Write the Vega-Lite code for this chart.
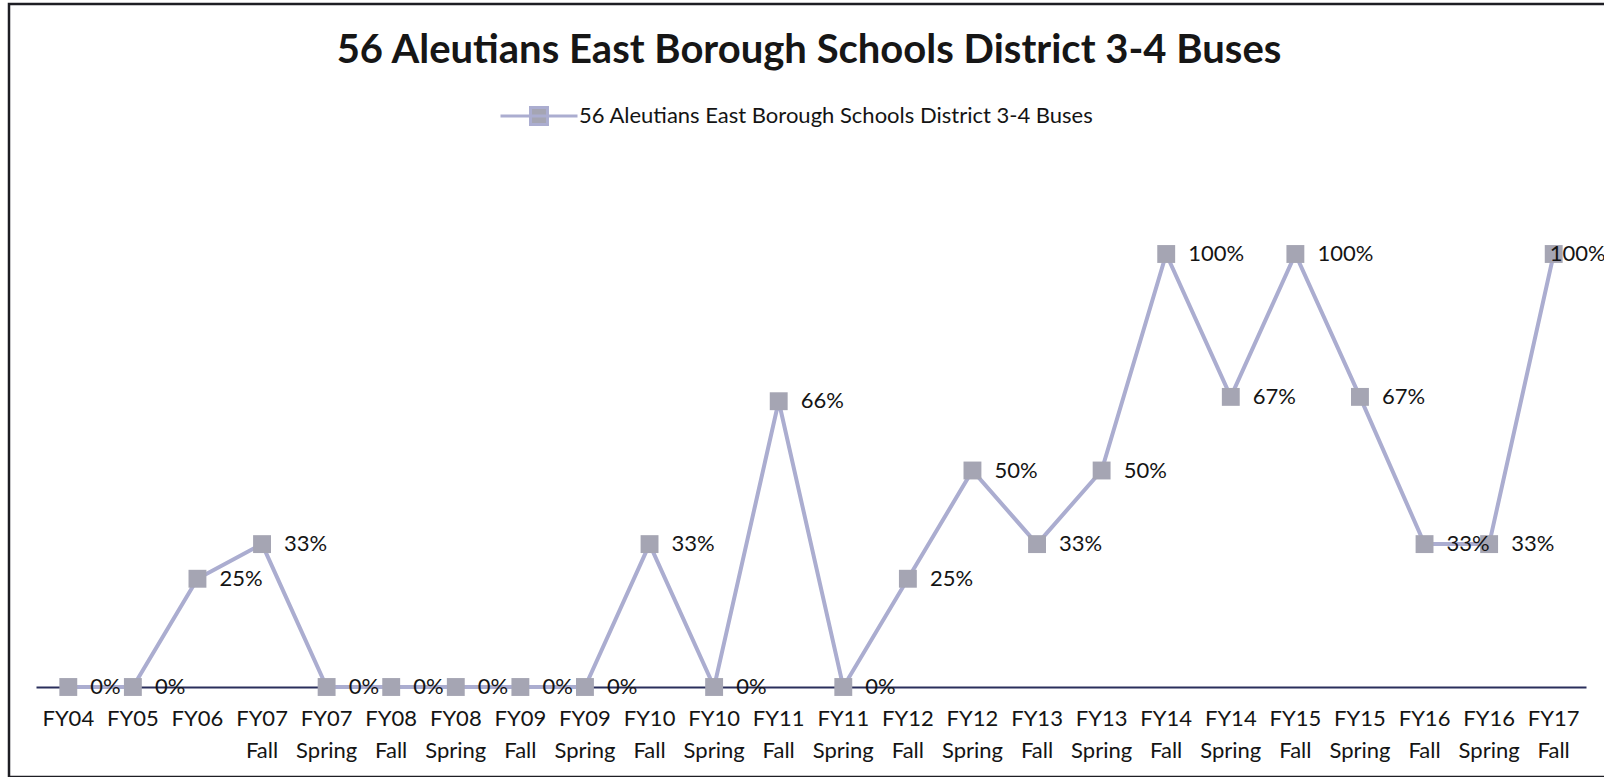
{
  "$schema": "https://vega.github.io/schema/vega-lite/v6.json",
  "autosize": "none",
  "width": 1600,
  "height": 773,
  "padding": {"left": 9, "top": 4, "right": 0, "bottom": 0},
  "background": "white",
  "config": {
    "font": "Lato",
    "view": {"stroke": "#1e1e24", "strokeWidth": 2.5}
  },
  "title": {
    "text": "56 Aleutians East Borough Schools District 3-4 Buses",
    "font": "Lato",
    "fontSize": 40,
    "fontWeight": "bold",
    "color": "#161616",
    "anchor": "middle",
    "baseline": "middle",
    "offset": -87
  },
  "data": {
    "values": [
      {"period": "FY04", "share": 0, "series": "56 Aleutians East Borough Schools District 3-4 Buses"},
      {"period": "FY05", "share": 0, "series": "56 Aleutians East Borough Schools District 3-4 Buses"},
      {"period": "FY06", "share": 0.25, "series": "56 Aleutians East Borough Schools District 3-4 Buses"},
      {"period": "FY07 Fall", "share": 0.33, "series": "56 Aleutians East Borough Schools District 3-4 Buses"},
      {"period": "FY07 Spring", "share": 0, "series": "56 Aleutians East Borough Schools District 3-4 Buses"},
      {"period": "FY08 Fall", "share": 0, "series": "56 Aleutians East Borough Schools District 3-4 Buses"},
      {"period": "FY08 Spring", "share": 0, "series": "56 Aleutians East Borough Schools District 3-4 Buses"},
      {"period": "FY09 Fall", "share": 0, "series": "56 Aleutians East Borough Schools District 3-4 Buses"},
      {"period": "FY09 Spring", "share": 0, "series": "56 Aleutians East Borough Schools District 3-4 Buses"},
      {"period": "FY10 Fall", "share": 0.33, "series": "56 Aleutians East Borough Schools District 3-4 Buses"},
      {"period": "FY10 Spring", "share": 0, "series": "56 Aleutians East Borough Schools District 3-4 Buses"},
      {"period": "FY11 Fall", "share": 0.66, "series": "56 Aleutians East Borough Schools District 3-4 Buses"},
      {"period": "FY11 Spring", "share": 0, "series": "56 Aleutians East Borough Schools District 3-4 Buses"},
      {"period": "FY12 Fall", "share": 0.25, "series": "56 Aleutians East Borough Schools District 3-4 Buses"},
      {"period": "FY12 Spring", "share": 0.5, "series": "56 Aleutians East Borough Schools District 3-4 Buses"},
      {"period": "FY13 Fall", "share": 0.33, "series": "56 Aleutians East Borough Schools District 3-4 Buses"},
      {"period": "FY13 Spring", "share": 0.5, "series": "56 Aleutians East Borough Schools District 3-4 Buses"},
      {"period": "FY14 Fall", "share": 1, "series": "56 Aleutians East Borough Schools District 3-4 Buses"},
      {"period": "FY14 Spring", "share": 0.67, "series": "56 Aleutians East Borough Schools District 3-4 Buses"},
      {"period": "FY15 Fall", "share": 1, "series": "56 Aleutians East Borough Schools District 3-4 Buses"},
      {"period": "FY15 Spring", "share": 0.67, "series": "56 Aleutians East Borough Schools District 3-4 Buses"},
      {"period": "FY16 Fall", "share": 0.33, "series": "56 Aleutians East Borough Schools District 3-4 Buses"},
      {"period": "FY16 Spring", "share": 0.33, "series": "56 Aleutians East Borough Schools District 3-4 Buses"},
      {"period": "FY17 Fall", "share": 1, "series": "56 Aleutians East Borough Schools District 3-4 Buses"}
    ]
  },
  "encoding": {
    "x": {
      "field": "period",
      "type": "nominal",
      "sort": null,
      "scale": {"type": "band", "range": [27, 1577], "paddingInner": 0, "paddingOuter": 0},
      "axis": {
        "title": null,
        "labelAngle": 0,
        "ticks": false,
        "offset": -90,
        "domainColor": "#2a2f5c",
        "domainWidth": 2,
        "labelExpr": "split(datum.label, ' ')",
        "labelFont": "Lato",
        "labelFontSize": 22,
        "labelColor": "#141414",
        "labelLineHeight": 32,
        "labelPadding": 21
      }
    },
    "y": {
      "field": "share",
      "type": "quantitative",
      "scale": {"domain": [0, 1], "range": [683, 250], "nice": false, "zero": false},
      "axis": null
    }
  },
  "layer": [
    {
      "mark": {"type": "line", "strokeWidth": 4},
      "encoding": {
        "color": {
          "field": "series",
          "type": "nominal",
          "scale": {"range": ["#abadd0"]},
          "legend": {
            "title": null,
            "orient": "none",
            "legendX": 490,
            "legendY": 72,
            "symbolType": "M-1,0H1M-0.22,-0.22H0.22V0.22H-0.22Z",
            "symbolSize": 5929,
            "symbolStrokeWidth": 3,
            "symbolStrokeColor": "#abadd0",
            "symbolFillColor": "#a5a5b3",
            "labelFont": "Lato",
            "labelFontSize": 22,
            "labelColor": "#141414",
            "labelLimit": 0,
            "labelOffset": 0,
            "encode": {
              "symbols": {
                "update": {
                  "fill": {"value": "#a5a5b3"},
                  "stroke": {"value": "#abadd0"},
                  "strokeWidth": {"value": 3},
                  "opacity": {"value": 1}
                }
              }
            }
          }
        }
      }
    },
    {
      "mark": {"type": "point", "shape": "square", "filled": true, "size": 320, "opacity": 1, "color": "#a5a5b3"},
      "encoding": {}
    },
    {
      "mark": {"type": "text", "align": "left", "baseline": "middle", "dx": {"expr": "datum.period == 'FY17 Fall' ? -4 : 22"}, "fontSize": 22, "font": "Lato", "color": "#141414"},
      "encoding": {
        "text": {"field": "share", "type": "quantitative", "format": ".0%"}
      }
    }
  ]
}
